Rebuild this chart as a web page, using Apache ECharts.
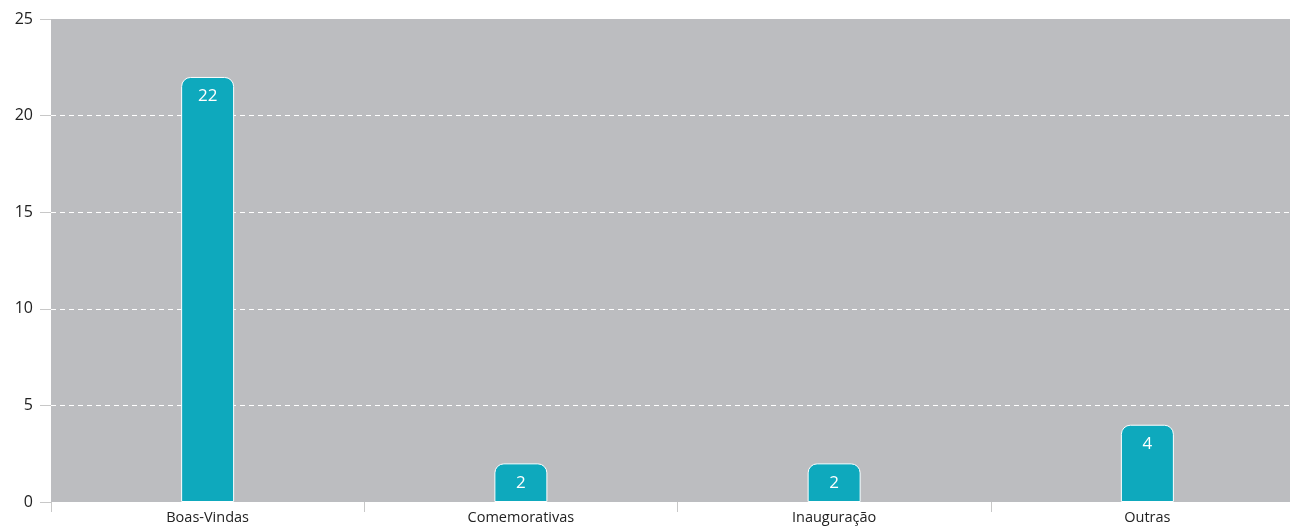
<!DOCTYPE html>
<html>
<head>
<meta charset="utf-8">
<script src="https://cdn.jsdelivr.net/npm/echarts@6/dist/echarts.min.js"></script>
<style>
  html, body { margin: 0; padding: 0; background: #fff; }
  #chart { width: 1290px; height: 528px; }
</style>
</head>
<body>
<div id="chart"></div>
<script>
const categories = ['Boas-Vindas', 'Comemorativas', 'Inauguração', 'Outras']
const values = [22, 2, 2, 4]
const yTicks = [0, 5, 10, 15, 20, 25]

const chart = echarts.init(document.getElementById('chart'))
const option = {
    animation: false,
    grid: {
        left: 51,
        width: 1253,
        top: 19,
        bottom: 26,
        outerBoundsMode: 'none',
        containLabel: false,
        show: true,
        backgroundColor: '#bcbdc0',
        borderWidth: 0
    },
    xAxis: {
        type: 'category',
        data: categories,
        axisLine: { show: false },
        axisTick: {
            show: true,
            length: 10,
            lineStyle: { color: '#c8c8c8' }
        },
        axisLabel: {
            color: '#222',
            fontFamily: 'Open Sans',
            fontSize: 14.5,
            margin: 8
        }
    },
    yAxis: {
        type: 'value',
        min: yTicks[0],
        max: yTicks[yTicks.length - 1],
        interval: 5,
        axisLine: { show: false },
        axisTick: {
            show: true,
            length: 11,
            lineStyle: { color: '#c8c8c8' }
        },
        axisLabel: {
            color: '#222',
            fontFamily: 'Open Sans',
            fontSize: 16,
            margin: 18
        },
        splitLine: {
            show: true,
            showMinLine: false,
            showMaxLine: false,
            lineStyle: { color: '#ffffff', type: [5, 4], width: 1 }
        }
    },
    series: [
        {
            type: 'bar',
            data: values,
            barWidth: 53,
            itemStyle: {
                color: '#0ea9bd',
                borderColor: '#ffffff',
                borderWidth: 1,
                borderRadius: [9, 9, 0, 0]
            },
            label: {
                show: true,
                position: 'insideTop',
                distance: 11,
                color: '#ffffff',
                fontFamily: 'Open Sans',
                fontSize: 17
            }
        }
    ]
}
chart.setOption(option)
</script>
</body>
</html>
